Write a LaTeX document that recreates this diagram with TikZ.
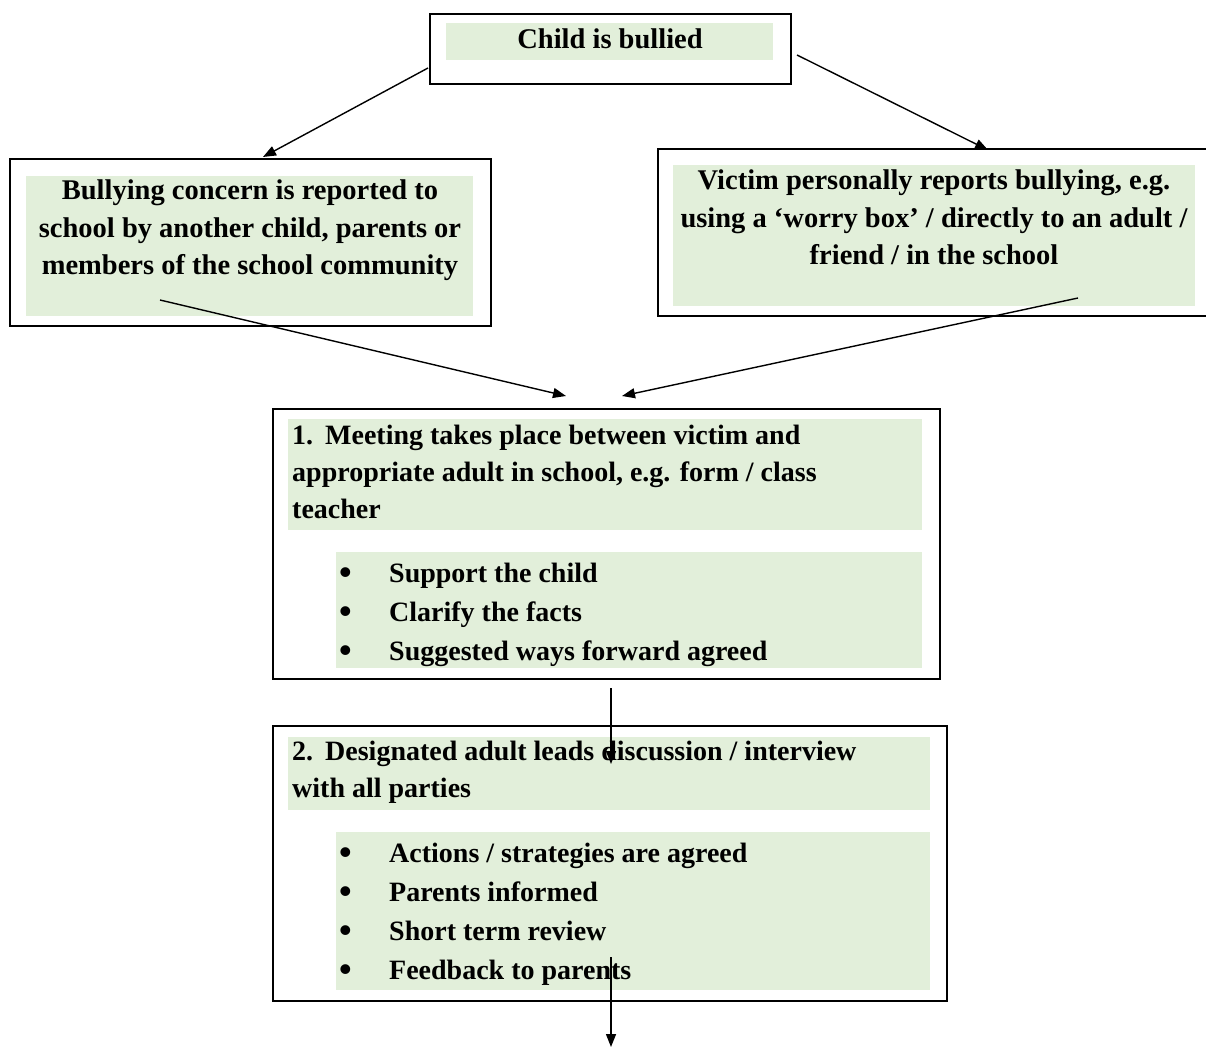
\documentclass[tikz,border=0pt]{standalone}
\usepackage{fontspec}
\setmainfont{Liberation Serif}
\usetikzlibrary{arrows.meta,positioning}
\definecolor{boxgreen}{RGB}{226,239,218}
\newcommand{\bul}{\makebox[50pt][l]{\raisebox{-2pt}{\fontsize{36}{36}\selectfont\textbullet}}}
\tikzset{
  >={Triangle[length=13pt,width=10pt]},
  frame/.style={draw, line width=1.8pt, inner sep=0, anchor=north west},
  greenfill/.style={fill=boxgreen, inner sep=0, anchor=north west},
  midtext/.style={font=\bfseries\fontsize{28.5}{37.5}\selectfont, align=center, inner sep=0, anchor=base},
  headtext/.style={font=\bfseries\fontsize{28}{37}\selectfont, align=left, inner sep=0, anchor=base west},
  listtext/.style={font=\bfseries\fontsize{28}{39}\selectfont, align=left, inner sep=0, anchor=base west},
  link/.style={->, line width=1.4pt},
}
\begin{document}
\begin{tikzpicture}[x=1pt, y=-1pt]
\useasboundingbox (0,0) rectangle (1206,1048);

% top box
\node[frame, minimum width=361, minimum height=70] (bullied) at (429,13) {};
\node[greenfill, minimum width=327, minimum height=37] (bulliedfill) at (446,23) {};
\node[midtext] (bulliedtext) at (610,49) {Child is bullied};

% reported by others (base = last line)
\node[frame, minimum width=481, minimum height=167] (others) at (9,158) {};
\node[greenfill, minimum width=447, minimum height=140] (othersfill) at (26,176) {};
\node[midtext] (otherstext) at (250,275) {Bullying concern is reported to\\school by another child, parents or\\members of the school community};

% reported by victim
\node[frame, minimum width=562, minimum height=167] (victim) at (657,148) {};
\node[greenfill, minimum width=522, minimum height=141] (victimfill) at (673,165) {};
\node[midtext] (victimtext) at (934,265) {Victim personally reports bullying, e.g.\\using a `worry box' / directly to an adult /\\friend / in the school};

% step 1
\node[frame, minimum width=667, minimum height=270] (meeting) at (272,408) {};
\node[greenfill, minimum width=634, minimum height=111] (meetinghead) at (288,419) {};
\node[greenfill, minimum width=586, minimum height=116] (meetinglist) at (336,552) {};
\node[headtext] (meetingtext) at (292,518) {1.\hspace{12pt}Meeting takes place between victim and\\appropriate adult in school, e.g. form / class\\teacher};
\node[listtext] (meetingpoints) at (339,660) {\bul Support the child\\\bul Clarify the facts\\\bul Suggested ways forward agreed};

% step 2
\node[frame, minimum width=674, minimum height=275] (discussion) at (272,725) {};
\node[greenfill, minimum width=642, minimum height=73] (discussionhead) at (288,737) {};
\node[greenfill, minimum width=594, minimum height=158] (discussionlist) at (336,832) {};
\node[headtext] (discussiontext) at (292,797) {2.\hspace{12pt}Designated adult leads discussion / interview\\with all parties};
\node[listtext] (discussionpoints) at (339,979) {\bul Actions / strategies are agreed\\\bul Parents informed\\\bul Short term review\\\bul Feedback to parents};

% connector ends
\coordinate (c1) at (428,68);
\coordinate (c2) at (263,157);
\coordinate (c3) at (797,55);
\coordinate (c4) at (988,150);
\coordinate (c5) at (160,300);
\coordinate (c6) at (566,396);
\coordinate (c7) at (1078,298);
\coordinate (c8) at (622,396);
\coordinate (c9) at (611,688);
\coordinate (c10) at (611,764);
\coordinate (c11) at (611,957);
\coordinate (c12) at (611,1047);

\draw[link] (c1) -- (c2);
\draw[link] (c3) -- (c4);
\draw[link] (c5) -- (c6);
\draw[link] (c7) -- (c8);
\draw[link] (c9) -- (c10);
\draw[link] (c11) -- (c12);

\end{tikzpicture}
\end{document}
